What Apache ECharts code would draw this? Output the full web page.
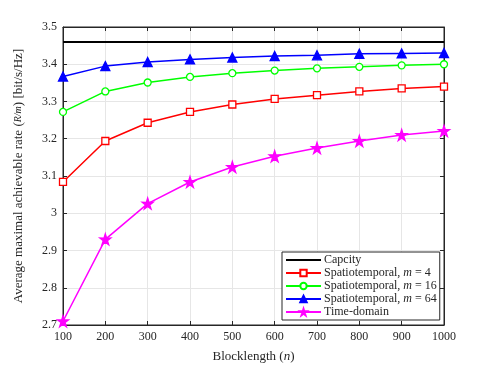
<!DOCTYPE html>
<html><head><meta charset="utf-8">
<script src="https://cdn.jsdelivr.net/npm/echarts@6/dist/echarts.min.js"></script>
<style>html,body{margin:0;padding:0;background:#fff}#c{width:491px;height:368px}</style>
</head><body><div id="c"></div>
<script>
const blocklength = [100,200,300,400,500,600,700,800,900,1000];
const capacity = [3.46,3.46,3.46,3.46,3.46,3.46,3.46,3.46,3.46,3.46];
const st4 = [3.084,3.194,3.243,3.272,3.292,3.307,3.317,3.327,3.335,3.340];
const st16 = [3.272,3.327,3.351,3.366,3.376,3.383,3.389,3.393,3.397,3.400];
const st64 = [3.367,3.395,3.406,3.413,3.418,3.422,3.424,3.428,3.429,3.430];
const timeDomain = [2.710,2.930,3.026,3.084,3.124,3.153,3.175,3.194,3.210,3.221];
const yTicks = {min:2.7,max:3.5,step:0.1};
const xTicks = {min:100,max:1000,step:100};

const FONT = '"Liberation Serif","DejaVu Serif",serif';
const star = 'path://M50,0 L61.17,34.63 L97.55,34.55 L68.07,55.87 L79.39,90.45 L50,69 L20.61,90.45 L31.93,55.87 L2.45,34.55 L38.83,34.63 Z';
const pair = a => a.map((v,i)=>[blocklength[i],v]);
const chart = echarts.init(document.getElementById('c'));
const gridLine = {show:true, lineStyle:{color:'#e6e6e6', width:1}};
const axisLine = {show:true, lineStyle:{color:'#262626', width:1}};
function ser(name, data, color, symbol, size, fill){
  return {name, type:'line', data:pair(data), symbol, symbolSize:size, showSymbol:true,
    lineStyle:{color, width:1.5}, itemStyle:{color: fill||color, borderColor:color, borderWidth:1.3},
    animation:false, z:3};
}
const names = ['Capcity','Spatiotemporal, {i|m} = 4','Spatiotemporal, {i|m} = 16','Spatiotemporal, {i|m} = 64','Time-domain'];
chart.setOption({
  backgroundColor:'#fff',
  textStyle:{fontFamily:FONT},
  grid:{left:63, right:47, top:27, bottom:41, show:true, borderColor:'#262626', borderWidth:1},
  xAxis:[{type:'value', min:xTicks.min, max:xTicks.max, interval:xTicks.step,
    name:'Blocklength ({i|n})', nameLocation:'middle', nameGap:25,
    nameTextStyle:{fontFamily:FONT, fontSize:13, color:'#262626', rich:{i:{fontStyle:'italic',fontFamily:FONT,fontSize:13,color:'#262626'}}},
    axisLine, axisTick:{inside:true, length:4, lineStyle:{color:'#262626'}},
    axisLabel:{fontFamily:FONT, fontSize:12, color:'#262626', margin:6, formatter:v=>String(v)},
    splitLine:gridLine},
    {type:'value', position:'top', min:xTicks.min, max:xTicks.max, interval:xTicks.step,
    axisLine, axisTick:{inside:true, length:4, lineStyle:{color:'#262626'}}, axisLabel:{show:false}, splitLine:{show:false}}],
  yAxis:[{type:'value', min:yTicks.min, max:yTicks.max, interval:yTicks.step,
    name:'Average maximal achievable rate ({s|R/m}) [bit/s/Hz]', nameLocation:'middle', nameGap:38, nameRotate:90,
    nameTextStyle:{fontFamily:FONT, fontSize:13, color:'#262626', rich:{s:{fontStyle:'italic',fontFamily:FONT,fontSize:10,color:'#262626'}}},
    axisLine, axisTick:{inside:true, length:4, lineStyle:{color:'#262626'}},
    axisLabel:{fontFamily:FONT, fontSize:12, color:'#262626', margin:6, formatter:v=>String(Math.round(v*10)/10)},
    splitLine:gridLine},
    {type:'value', position:'right', min:yTicks.min, max:yTicks.max, interval:yTicks.step,
    axisLine, axisTick:{inside:true, length:4, lineStyle:{color:'#262626'}}, axisLabel:{show:false}, splitLine:{show:false}}],
  legend:{orient:'vertical', left:282, top:252, itemWidth:35, itemHeight:8, itemGap:1,
    backgroundColor:'#fff', borderColor:'#262626', borderWidth:1, padding:[2,3,2,3],
    textStyle:{fontFamily:FONT, fontSize:12, lineHeight:12, color:'#262626', padding:[0,0,0,-2], rich:{i:{fontStyle:'italic',fontFamily:FONT,fontSize:12,lineHeight:12,color:'#262626'}}},
    data:[{name:names[0], itemStyle:{opacity:0}}, names[1], names[2], names[3], names[4]]},
  series:[
    Object.assign(ser(names[0], capacity, '#000000','none',0), {lineStyle:{color:'#000',width:2}}),
    ser(names[1], st4, '#ff0000','rect',7,'#ffffff'),
    ser(names[2], st16, '#00ff00','circle',7,'#ffffff'),
    ser(names[3], st64, '#0000ff','triangle',9),
    ser(names[4], timeDomain, '#ff00ff',star,11)
  ]
});
</script></body></html>
